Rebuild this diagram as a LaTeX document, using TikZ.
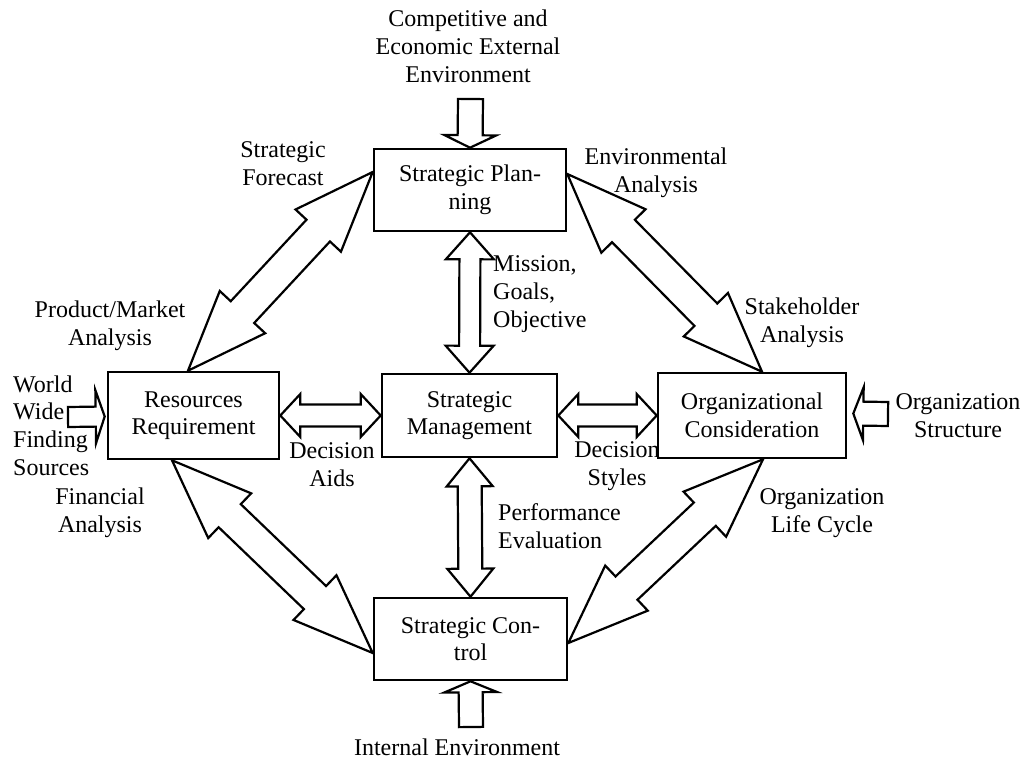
\documentclass[tikz,border=0pt]{standalone}
\usepackage{fontspec}
\setmainfont{Liberation Serif}
\usetikzlibrary{calc,backgrounds}
\tikzset{
  box/.style={draw, line width=2.6pt, align=center, inner sep=0pt},
  blk/.style={draw, fill=white, line width=2.2pt, line join=miter},
  lbl/.style={align=center, inner sep=0pt, anchor=base},
  lbll/.style={align=left, inner sep=0pt, anchor=base west},
}
% double block arrow: #1 end A, #2 end B, #3 head length, #4 head half width, #5 shaft half width
\newcommand{\dblarr}[5]{%
  \draw[blk] (#1)
    -- ($(#1)!#3!(#2)!#4!90:(#2)$)
    -- ($(#1)!#3!(#2)!#5!90:(#2)$)
    -- ($(#2)!#3!(#1)!#5!-90:(#1)$)
    -- ($(#2)!#3!(#1)!#4!-90:(#1)$)
    -- (#2)
    -- ($(#2)!#3!(#1)!#4!90:(#1)$)
    -- ($(#2)!#3!(#1)!#5!90:(#1)$)
    -- ($(#1)!#3!(#2)!#5!-90:(#2)$)
    -- ($(#1)!#3!(#2)!#4!-90:(#2)$)
    -- cycle;}
% single block arrow: #1 tail, #2 tip, #3 head length, #4 head half width, #5 shaft half width
\newcommand{\sglarr}[5]{%
  \draw[blk] (#2)
    -- ($(#2)!#3!(#1)!#4!90:(#1)$)
    -- ($(#2)!#3!(#1)!#5!90:(#1)$)
    -- ($(#1)!#5!-90:(#2)$)
    -- ($(#1)!#5!90:(#2)$)
    -- ($(#2)!#3!(#1)!#5!-90:(#1)$)
    -- ($(#2)!#3!(#1)!#4!-90:(#1)$)
    -- cycle;}
\begin{document}
\begin{tikzpicture}[x=1pt,y=-1pt,font=\fontsize{24}{27.6}\selectfont]
\useasboundingbox (0,0) rectangle (1024,760);

% boxes
\node[box, minimum width=192pt, minimum height=82pt] (sp) at (470,190) {Strategic Plan-\\ning};
\node[box, minimum width=171pt, minimum height=87pt] (rr) at (193.5,415.5) {Resources\\Requirement};
\node[box, minimum width=175pt, minimum height=83pt] (sm) at (469.5,415.5) {Strategic\\Management};
\node[box, minimum width=188pt, minimum height=85pt] (oc) at (752,415.5) {Organizational\\Consideration};
\node[box, minimum width=193pt, minimum height=82pt] (sc) at (470.5,639) {Strategic Con-\\trol};

% arrow end points
\coordinate (topt) at (470.5,99);
\coordinate (bott) at (471,727);
\coordinate (wwt) at (68,417);
\coordinate (wwh) at ($(rr.west)+(-2,1)$);
\coordinate (ost) at (888,414);
\coordinate (osh) at ($(oc.east)+(6,-2)$);
\coordinate (f1) at ($(rr.north)+(-5.5,0)$);
\coordinate (f2) at ($(sp.west)+(0,-18)$);
\coordinate (e1) at ($(sp.east)+(0,-16)$);
\coordinate (e2) at ($(oc.north)+(10,0)$);
\coordinate (n1) at ($(rr.south)+(-21.5,0)$);
\coordinate (n2) at ($(sc.west)+(0,14)$);
\coordinate (l1) at ($(oc.south)+(11,0)$);
\coordinate (l2) at ($(sc.east)+(0,4)$);

\begin{scope}[on background layer]
  \sglarr{topt}{sp.north}{12.5pt}{26pt}{12.5pt}
  \sglarr{bott}{sc.south}{11pt}{26.5pt}{12pt}
  \sglarr{wwt}{wwh}{9pt}{26.5pt}{10pt}
  \sglarr{ost}{osh}{10pt}{26.5pt}{12pt}
  \dblarr{sp.south}{sm.north}{27pt}{24pt}{10.5pt}
  \dblarr{sm.south}{sc.north}{28pt}{23pt}{12pt}
  \dblarr{rr.east}{sm.west}{20pt}{21.5pt}{11pt}
  \dblarr{sm.east}{oc.west}{20pt}{21.5pt}{11pt}
  \dblarr{f1}{f2}{80pt}{31pt}{16pt}
  \dblarr{e1}{e2}{80pt}{31pt}{16pt}
  \dblarr{n1}{n2}{80pt}{31pt}{16pt}
  \dblarr{l1}{l2}{80pt}{31pt}{16pt}
\end{scope}

% labels (anchored at baseline of last line)
\node[lbl] (comp) at (468,82) {Competitive and\\Economic External\\Environment};
\node[lbl] (fore) at (283,185) {Strategic\\Forecast};
\node[lbl] (env) at (656,192) {Environmental\\Analysis};
\node[lbll] (mis) at (493,327) {Mission,\\Goals,\\Objective};
\node[lbl] (prod) at (110,345) {Product/Market\\Analysis};
\node[lbl] (stake) at (802,342) {Stakeholder\\Analysis};
\node[lbll] (world) at (13,475) {World\\Wide\\Finding\\Sources};
\node[lbl] (aids) at (332,486) {Decision\\Aids};
\node[lbl] (styles) at (617,485) {Decision\\Styles};
\node[lbl] (orgs) at (958,437) {Organization\\Structure};
\node[lbl] (fin) at (100,532) {Financial\\Analysis};
\node[lbl] (life) at (822,532) {Organization\\Life Cycle};
\node[lbll] (perf) at (498,548) {Performance\\Evaluation};
\node[lbl] (int) at (457,755) {Internal Environment};
\end{tikzpicture}
\end{document}
